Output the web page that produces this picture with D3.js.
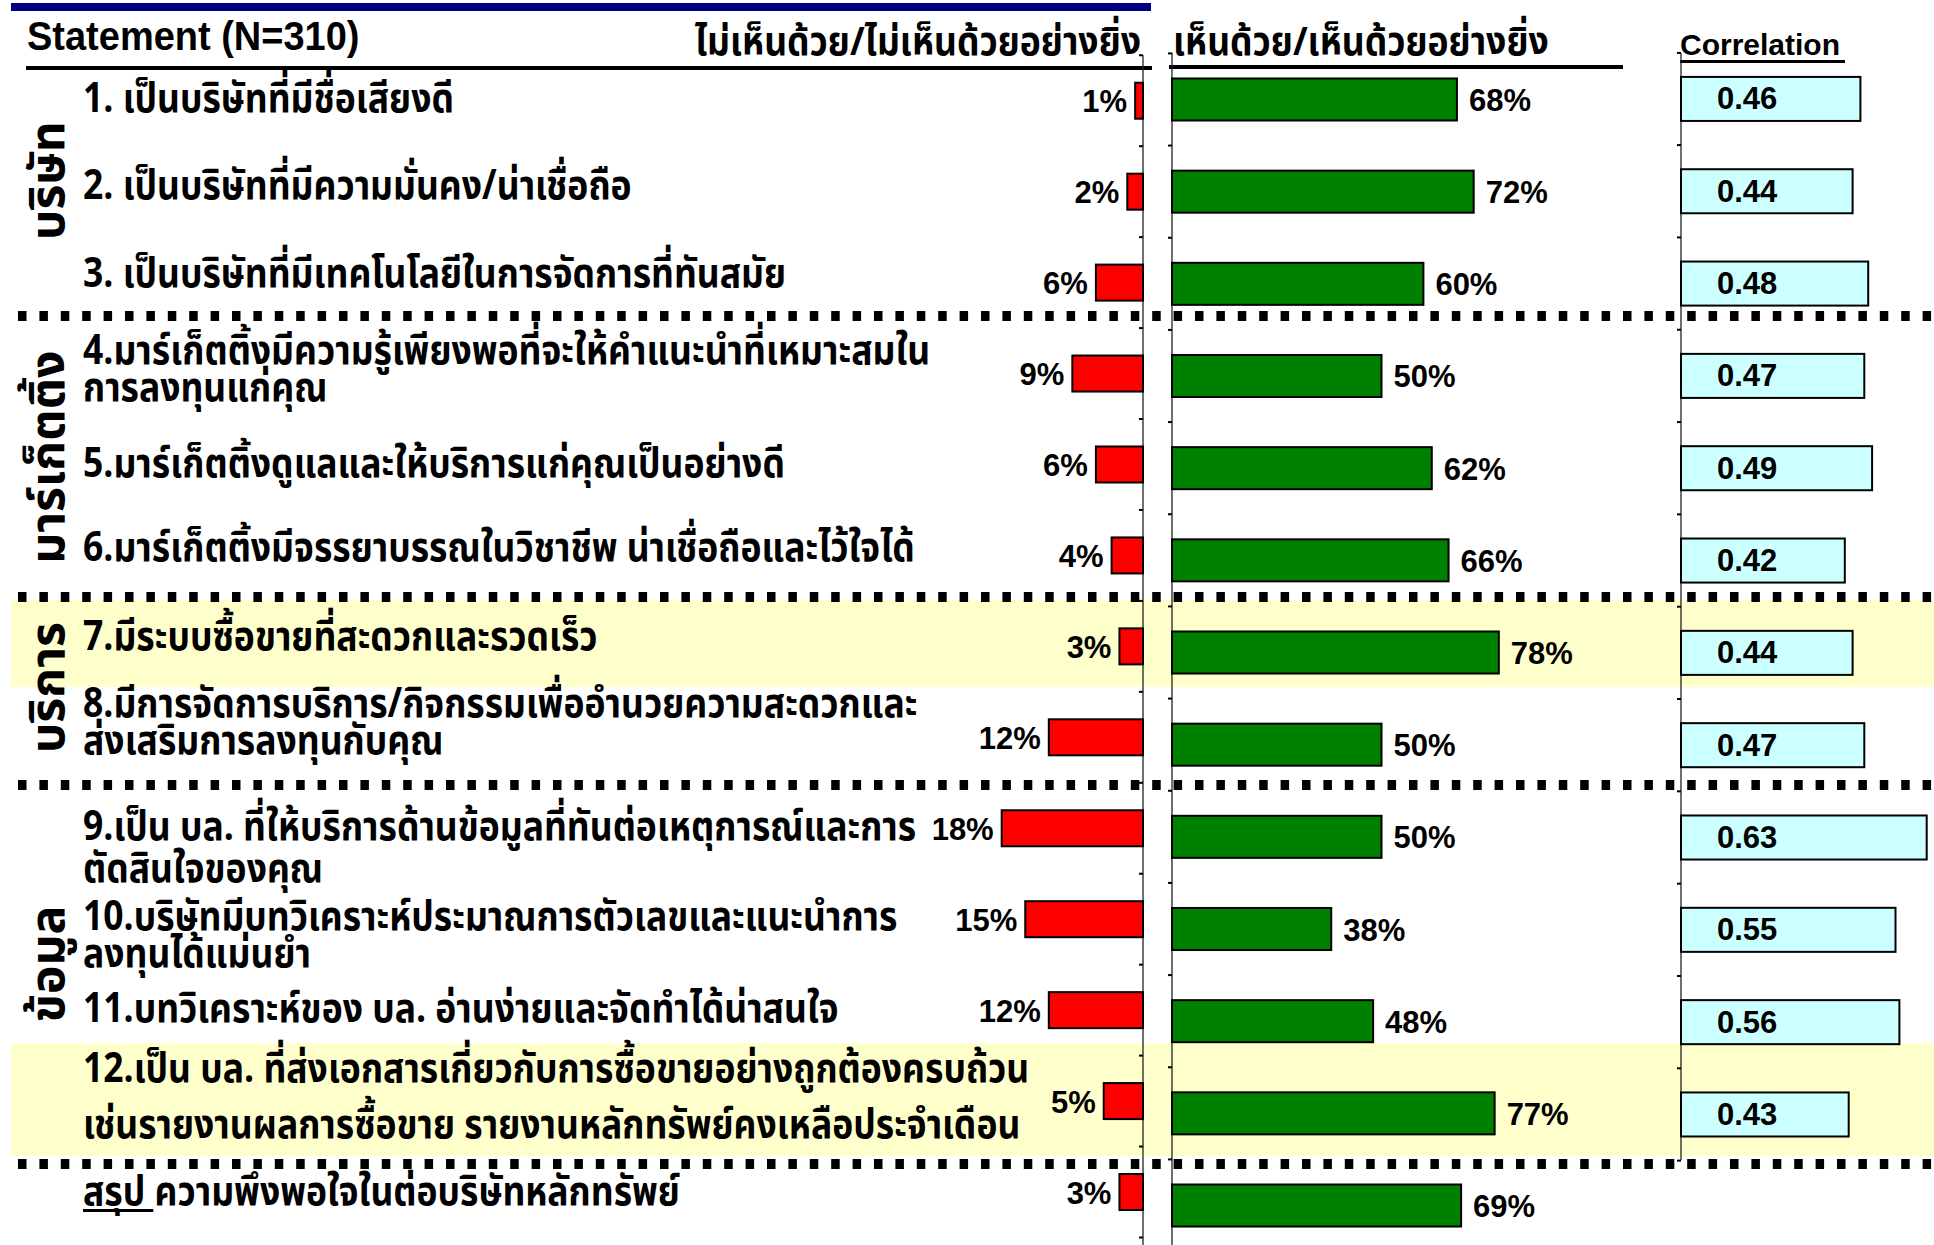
<!DOCTYPE html>
<html>
<head>
<meta charset="utf-8">
<script src="https://cdn.jsdelivr.net/npm/d3@7"></script>
<style>
  html, body { margin: 0; padding: 0; background: #ffffff; }
  svg { display: block; }
</style>
</head>
<body>
<svg id="chart" width="1934" height="1245"></svg>
<script>
// ---- data ----------------------------------------------------------------
const statements = [
  ["1. เป็นบริษัทที่มีชื่อเสียงดี"],
  ["2. เป็นบริษัทที่มีความมั่นคง/น่าเชื่อถือ"],
  ["3. เป็นบริษัทที่มีเทคโนโลยีในการจัดการที่ทันสมัย"],
  ["4.มาร์เก็ตติ้งมีความรู้เพียงพอที่จะให้คำแนะนำที่เหมาะสมใน", "การลงทุนแก่คุณ"],
  ["5.มาร์เก็ตติ้งดูแลและให้บริการแก่คุณเป็นอย่างดี"],
  ["6.มาร์เก็ตติ้งมีจรรยาบรรณในวิชาชีพ น่าเชื่อถือและไว้ใจได้"],
  ["7.มีระบบซื้อขายที่สะดวกและรวดเร็ว"],
  ["8.มีการจัดการบริการ/กิจกรรมเพื่ออำนวยความสะดวกและ", "ส่งเสริมการลงทุนกับคุณ"],
  ["9.เป็น บล. ที่ให้บริการด้านข้อมูลที่ทันต่อเหตุการณ์และการ", "ตัดสินใจของคุณ"],
  ["10.บริษัทมีบทวิเคราะห์ประมาณการตัวเลขและแนะนำการ", "ลงทุนได้แม่นยำ"],
  ["11.บทวิเคราะห์ของ บล. อ่านง่ายและจัดทำได้น่าสนใจ"],
  ["12.เป็น บล. ที่ส่งเอกสารเกี่ยวกับการซื้อขายอย่างถูกต้องครบถ้วน", "เช่นรายงานผลการซื้อขาย รายงานหลักทรัพย์คงเหลือประจำเดือน"]
];
const summaryLead = "สรุป";
const summaryText = " ความพึงพอใจในต่อบริษัทหลักทรัพย์";

const rowKeys = ["s1","s2","s3","s4","s5","s6","s7","s8","s9","s10","s11","s12","sum"];

// disagree / strongly disagree (%)
const disagree = [1, 2, 6, 9, 6, 4, 3, 12, 18, 15, 12, 5, 3];
// agree / strongly agree (%)
const agree = [68, 72, 60, 50, 62, 66, 78, 50, 50, 38, 48, 77, 69];
// correlation with overall satisfaction (statements only)
const correlation = [0.46, 0.44, 0.48, 0.47, 0.49, 0.42, 0.44, 0.47, 0.63, 0.55, 0.56, 0.43];

const groupNames = ["บริษัท", "มาร์เก็ตติ้ง", "บริการ", "ข้อมูล"];
const groupFirstRow = [0, 3, 6, 8];
const groupLastRow = [2, 5, 7, 11];

const headerTitle = "Statement (N=310)";
const headerDisagree = "ไม่เห็นด้วย/ไม่เห็นด้วยอย่างยิ่ง";
const headerAgree = "เห็นด้วย/เห็นด้วยอย่างยิ่ง";
const headerCorr = "Correlation";

// ---- layout ----------------------------------------------------------------
const W = 1934, H = 1245;
const THAI = "'Noto Sans Thai', 'Noto Sans Thai UI', Tahoma, 'Noto Sans', sans-serif";
const LATIN = "'Liberation Sans', Arial, sans-serif";
const separatorY = [316, 597, 785, 1164];
const bandY = [[600, 687], [1043, 1156]];
const THAI_STRETCH = 1.15;          // Thai glyphs are drawn a little taller than wide
// vertical shift of each statement's first line from its bar centre, and line spacing
const stmtShift = [1.5, -4, -8, -23, -2, -10, -13.5, -39, -8, -10, -10, -42, -11.5];
const stmtGap = [0, 0, 0, 37, 0, 0, 0, 37, 42, 37, 0, 56, 0];

const svg = d3.select("#chart");

// text helper: places a text at (x, y) with an optional vertical stretch
function addText(parent, x, y, str, k = 1) {
  return parent.append("text")
    .attr("transform", `translate(${x},${y}) scale(1,${k})`)
    .text(str);
}

// scales
const yRed = d3.scaleBand().domain(rowKeys).range([55.25, 1237.5]).paddingInner(0.604).paddingOuter(0.302);
const yGreen = d3.scaleBand().domain(rowKeys).range([53.4, 1251.6]).paddingInner(0.544).paddingOuter(0.272);
const yCorr = d3.scaleBand().domain(rowKeys.slice(0, 12)).range([52.9, 1160.5]).paddingInner(0.523).paddingOuter(0.26);

const xRed = d3.scaleLinear().domain([0, 20]).range([1143, 1143 - 157]);
const xGreen = d3.scaleLinear().domain([0, 100]).range([1172, 1172 + 419]);
const xCorr = d3.scaleLinear().domain([0, 1]).range([1681, 1681 + 390]);

// ---- highlight bands ----
svg.append("g").selectAll("rect").data(bandY).join("rect")
  .attr("x", 11).attr("y", d => d[0]).attr("width", W - 11).attr("height", d => d[1] - d[0])
  .attr("fill", "#FFFFCC");

// ---- header ----
svg.append("line").attr("x1", 11).attr("x2", 1151).attr("y1", 7).attr("y2", 7)
  .attr("stroke", "#000080").attr("stroke-width", 8);

addText(svg, 27, 50, headerTitle, 1.08)
  .attr("font-family", LATIN).attr("font-weight", "bold").attr("font-size", 38);

svg.append("line").attr("x1", 26).attr("x2", 1152).attr("y1", 68).attr("y2", 68)
  .attr("stroke", "#000").attr("stroke-width", 4);

addText(svg, 1141, 55, headerDisagree, 1.12).attr("text-anchor", "end")
  .attr("font-family", THAI).attr("font-weight", "bold").attr("font-size", 35.5);

addText(svg, 1173, 55, headerAgree, 1.12)
  .attr("font-family", THAI).attr("font-weight", "bold").attr("font-size", 35.5);
svg.append("line").attr("x1", 1169).attr("x2", 1623).attr("y1", 67).attr("y2", 67)
  .attr("stroke", "#000").attr("stroke-width", 4);

addText(svg, 1680, 55, headerCorr)
  .attr("font-family", LATIN).attr("font-weight", "bold").attr("font-size", 30);
svg.append("line").attr("x1", 1680).attr("x2", 1845).attr("y1", 61.5).attr("y2", 61.5)
  .attr("stroke", "#000").attr("stroke-width", 3);

// ---- separators ----
svg.append("g").selectAll("line").data(separatorY).join("line")
  .attr("x1", 18).attr("x2", W).attr("y1", d => d).attr("y2", d => d)
  .attr("stroke", "#000").attr("stroke-width", 10).attr("stroke-dasharray", "8.5 12.9");

// ---- axes (category lines with boundary ticks) ----
function categoryAxis(scale, x, y0, y1) {
  const g = svg.append("g");
  g.append("line").attr("x1", x).attr("x2", x).attr("y1", y0).attr("y2", y1)
    .attr("stroke", "#222").attr("stroke-width", 1.3);
  const step = scale.step();
  const edges = [scale.range()[0]].concat(scale.domain().map(d => scale(d) + scale.bandwidth() + (step - scale.bandwidth()) / 2));
  g.selectAll(".tk").data(edges.filter(e => e <= H)).join("line").attr("class", "tk")
    .attr("x1", x - 4).attr("x2", x).attr("y1", d => d).attr("y2", d => d)
    .attr("stroke", "#000").attr("stroke-width", 2);
}
categoryAxis(yRed, xRed(0), 55, H);
categoryAxis(yGreen, xGreen(0), 53, H);
categoryAxis(yCorr, xCorr(0), 53, 1160);

// ---- bars ----
const rows = rowKeys.map((k, i) => ({ k, i, dis: disagree[i], agr: agree[i], cor: correlation[i] }));

svg.append("g").selectAll("rect").data(rows).join("rect")
  .attr("x", d => xRed(d.dis)).attr("y", d => yRed(d.k))
  .attr("width", d => xRed(0) - xRed(d.dis)).attr("height", yRed.bandwidth())
  .attr("fill", "#FF0000").attr("stroke", "#000").attr("stroke-width", 2);

svg.append("g").selectAll("rect").data(rows).join("rect")
  .attr("x", xGreen(0)).attr("y", d => yGreen(d.k))
  .attr("width", d => xGreen(d.agr) - xGreen(0)).attr("height", yGreen.bandwidth())
  .attr("fill", "#008000").attr("stroke", "#000").attr("stroke-width", 2);

svg.append("g").selectAll("rect").data(rows.slice(0, 12)).join("rect")
  .attr("x", xCorr(0)).attr("y", d => yCorr(d.k))
  .attr("width", d => xCorr(d.cor) - xCorr(0)).attr("height", yCorr.bandwidth())
  .attr("fill", "#CCFFFF").attr("stroke", "#000").attr("stroke-width", 2);

// ---- value labels ----
const labelStyle = sel => sel.attr("font-family", LATIN).attr("font-weight", "bold")
  .attr("font-size", 31).attr("dominant-baseline", "central");

svg.append("g").selectAll("text").data(rows).join("text").call(labelStyle)
  .attr("x", d => xRed(d.dis) - 8).attr("y", d => yRed(d.k) + yRed.bandwidth() / 2 + 1)
  .attr("text-anchor", "end").text(d => d.dis + "%");

svg.append("g").selectAll("text").data(rows).join("text").call(labelStyle)
  .attr("x", d => xGreen(d.agr) + 12).attr("y", d => yGreen(d.k) + yGreen.bandwidth() / 2 + 1)
  .text(d => d.agr + "%");

svg.append("g").selectAll("text").data(rows.slice(0, 12)).join("text").call(labelStyle)
  .attr("x", xCorr(0) + 36).attr("y", d => yCorr(d.k) + yCorr.bandwidth() / 2)
  .text(d => d.cor.toFixed(2));

// ---- statement labels ----
const rowCenter = k => yGreen(k) + yGreen.bandwidth() / 2;
const BODY_HALF = 11;   // half the height of a Thai letter body
const stmt = svg.append("g").attr("font-family", THAI).attr("font-size", 35.5).attr("font-weight", "bold");
statements.forEach((lines, i) => {
  const base = rowCenter(rowKeys[i]) + stmtShift[i] + BODY_HALF;
  lines.forEach((ln, j) => addText(stmt, 83, base + j * stmtGap[i], ln, THAI_STRETCH));
});
const sumY = rowCenter("sum") + stmtShift[12] + BODY_HALF;
const sumText = stmt.append("text").attr("transform", `translate(83,${sumY}) scale(1,${THAI_STRETCH})`);
sumText.append("tspan").text(summaryLead);
sumText.append("tspan").text(summaryText);
const leadWidth = sumText.select("tspan").node().getComputedTextLength();
svg.append("line").attr("x1", 83).attr("x2", 83 + leadWidth + 8).attr("y1", sumY + 5.5).attr("y2", sumY + 5.5)
  .attr("stroke", "#000").attr("stroke-width", 3);

// ---- group labels (vertical) ----
svg.append("g").selectAll("text").data(groupNames).join("text")
  .attr("transform", (d, i) => {
    const cy = (rowCenter(rowKeys[groupFirstRow[i]]) + rowCenter(rowKeys[groupLastRow[i]])) / 2 - 11;
    return `translate(64,${cy}) rotate(-90)`;
  })
  .attr("text-anchor", "middle")
  .attr("font-family", THAI).attr("font-weight", "bold").attr("font-size", 48)
  .text(d => d);
</script>
</body>
</html>
